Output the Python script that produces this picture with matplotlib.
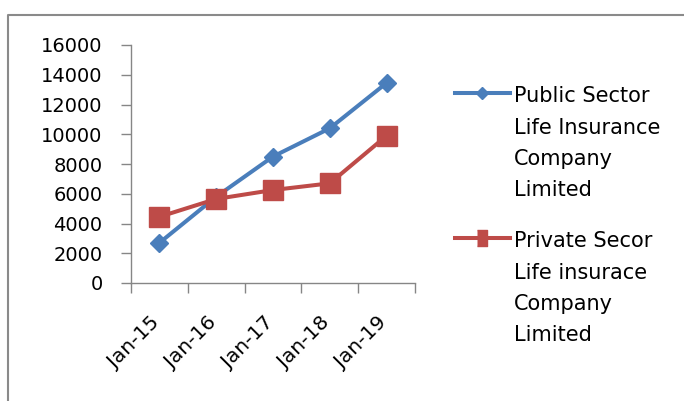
import matplotlib
matplotlib.use("Agg")
import matplotlib.pyplot as plt
import matplotlib.transforms as mtransforms
from matplotlib.lines import Line2D

# series values
years = ["Jan-15", "Jan-16", "Jan-17", "Jan-18", "Jan-19"]
public_sector = [2700, 5800, 8500, 10400, 13450]
private_sector = [4450, 5650, 6250, 6700, 9900]
public_label = "Public Sector\nLife Insurance\nCompany\nLimited"
private_label = "Private Secor\nLife insurace\nCompany\nLimited"
y_ticks = [0, 2000, 4000, 6000, 8000, 10000, 12000, 14000, 16000]

BLUE = "#4a7ebb"
RED = "#be4b48"
AXIS = "#868686"
W, H = 684, 401

fig = plt.figure(figsize=(W / 100, H / 100), dpi=100)
ax = fig.add_axes([131 / W, 1 - 283 / H, (415 - 131) / W, (283 - 45) / H])

x = list(range(len(years)))
ax.plot(x, public_sector, color=BLUE, lw=2.9, marker="D", ms=9.2,
        mfc=BLUE, mec=BLUE, solid_joinstyle="round", zorder=3)
ax.plot(x, private_sector, color=RED, lw=2.9, marker="s", ms=14,
        mfc=RED, mec=RED, solid_joinstyle="round", zorder=3)

ax.set_xlim(-0.5, len(years) - 0.5)
ax.set_ylim(0, 16000)
ax.set_yticks(y_ticks)
ax.set_yticklabels([str(v) for v in y_ticks], fontsize=14)

# category labels in the middle, tick marks on the boundaries
ax.set_xticks(x)
ax.set_xticklabels(years, fontsize=14.5, rotation=45, ha="right")
ax.set_xticks([i - 0.5 for i in range(len(years) + 1)], minor=True)
ax.tick_params(axis="x", which="major", length=0, pad=22)
ax.tick_params(axis="x", which="minor", length=7, width=1, color=AXIS)
ax.tick_params(axis="y", length=7, width=1, color=AXIS, pad=13.5)
shift = mtransforms.ScaledTranslation(4 / 100, 0, fig.dpi_scale_trans)
for lbl in ax.get_xticklabels():
    lbl.set_transform(lbl.get_transform() + shift)

for side in ["top", "right"]:
    ax.spines[side].set_visible(False)
for side in ["left", "bottom"]:
    ax.spines[side].set_color(AXIS)
    ax.spines[side].set_linewidth(1)

# legend drawn by hand so the key sits beside the first line of text
def legend_entry(y_line, y_last, color, marker, ms, text):
    fig.add_artist(Line2D([455 / W, 510 / W], [1 - y_line / H] * 2,
                          color=color, lw=2.9, transform=fig.transFigure))
    fig.add_artist(Line2D([482 / W], [1 - y_line / H], marker=marker,
                          ms=ms, color=color, mec=color,
                          transform=fig.transFigure))
    fig.text(514 / W, 1 - y_last / H, text, fontsize=15, va="baseline",
             ha="left", linespacing=1.7)

legend_entry(92.5, 196, BLUE, "D", 6, public_label)
legend_entry(237.5, 341, RED,
             [(-0.3, -0.5), (0.3, -0.5), (0.3, 0.5), (-0.3, 0.5)], 11,
             private_label)

# chart border
fig.add_artist(Line2D([8 / W, 8 / W, 1.0], [0.0, 1 - 15 / H, 1 - 15 / H],
                      color="#8a8a8a", lw=1.5, transform=fig.transFigure))

fig.savefig("out.png", dpi=100, facecolor="white")
